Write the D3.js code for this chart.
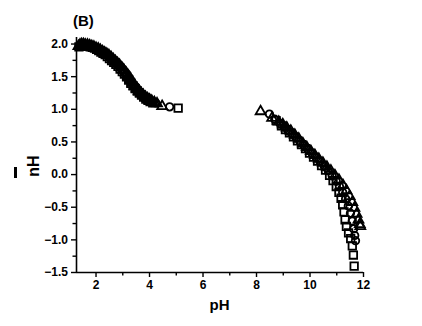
<!DOCTYPE html>
<html><head><meta charset="utf-8">
<script src="https://cdn.jsdelivr.net/npm/d3@7/dist/d3.min.js"></script>
<style>
html,body{margin:0;padding:0;background:#fff;}
text{font-family:"Liberation Sans",Arial,sans-serif;font-weight:bold;fill:#000;}
</style></head>
<body><svg id="c" width="422" height="326"></svg>
<script>
// Series: squares, circles, triangles (pH, nH)
const sqPH = [1.38,1.44,1.50,1.57,1.64,1.72,1.80,1.88,1.96,2.04,2.12,2.20,2.28,2.36,2.44,2.52,2.60,2.68,2.76,2.84,2.92,3.00,3.08,3.16,3.24,3.32,3.40,3.48,3.56,3.64,3.72,3.80,3.88,3.96,4.04,4.14,5.09,
  8.75,8.95,9.10,9.25,9.40,9.55,9.70,9.85,10.00,10.15,10.30,10.45,10.60,10.75,10.88,11.00,11.10,11.18,11.24,11.29,11.33,11.38,11.46,11.54,11.60,11.64,11.67];
const sqNH = [1.95,1.96,1.97,1.97,1.96,1.96,1.95,1.94,1.93,1.91,1.89,1.87,1.85,1.83,1.80,1.77,1.74,1.71,1.68,1.65,1.61,1.57,1.53,1.49,1.44,1.39,1.35,1.31,1.27,1.24,1.21,1.18,1.15,1.13,1.11,1.09,1.01,
  0.82,0.74,0.68,0.63,0.57,0.51,0.45,0.39,0.32,0.26,0.20,0.13,0.06,-0.02,-0.10,-0.19,-0.28,-0.37,-0.47,-0.58,-0.70,-0.80,-0.90,-0.99,-1.10,-1.24,-1.41];
const ciPH = [1.40,1.46,1.52,1.59,1.66,1.74,1.82,1.90,1.98,2.06,2.14,2.22,2.30,2.38,2.46,2.54,2.62,2.70,2.78,2.86,2.94,3.02,3.10,3.18,3.26,3.34,3.42,3.50,3.58,3.66,3.74,3.82,3.90,3.98,4.06,4.15,4.25,4.77,
  8.50,8.70,8.90,9.05,9.20,9.35,9.50,9.65,9.80,9.95,10.10,10.25,10.40,10.55,10.70,10.85,11.00,11.12,11.24,11.35,11.45,11.53,11.60,11.65,11.69,11.72];
const ciNH = [1.97,1.98,1.99,1.98,1.98,1.97,1.96,1.95,1.94,1.92,1.91,1.89,1.87,1.85,1.83,1.80,1.77,1.74,1.71,1.68,1.65,1.61,1.57,1.53,1.48,1.43,1.38,1.34,1.30,1.26,1.23,1.20,1.17,1.15,1.13,1.11,1.09,1.03,
  0.92,0.84,0.77,0.72,0.66,0.61,0.55,0.49,0.43,0.37,0.31,0.25,0.19,0.12,0.05,-0.03,-0.11,-0.19,-0.28,-0.38,-0.49,-0.60,-0.72,-0.84,-0.94,-1.02];
const trPH = [1.36,1.42,1.48,1.55,1.62,1.70,1.78,1.86,1.94,2.02,2.10,2.18,2.26,2.34,2.42,2.50,2.58,2.66,2.74,2.82,2.90,2.98,3.06,3.14,3.22,3.30,3.38,3.46,3.54,3.62,3.70,3.78,3.86,3.94,4.02,4.10,4.20,4.30,4.49,
  8.17,8.60,8.85,9.00,9.15,9.30,9.45,9.60,9.75,9.90,10.05,10.20,10.35,10.50,10.65,10.80,10.95,11.10,11.25,11.38,11.50,11.60,11.68,11.76,11.83,11.88,11.90];
const trNH = [1.96,1.98,1.99,1.99,1.98,1.98,1.97,1.96,1.95,1.93,1.92,1.90,1.88,1.86,1.84,1.82,1.79,1.76,1.73,1.70,1.67,1.63,1.59,1.55,1.50,1.45,1.40,1.35,1.31,1.27,1.24,1.21,1.18,1.16,1.14,1.12,1.10,1.08,1.04,
  0.96,0.86,0.80,0.76,0.71,0.66,0.60,0.54,0.47,0.41,0.35,0.29,0.23,0.17,0.11,0.05,-0.02,-0.09,-0.17,-0.25,-0.34,-0.43,-0.52,-0.61,-0.70,-0.77,-0.80];
const xTicks = [2,4,6,8,10,12];
const yTicks = [-1.5,-1.0,-0.5,0.0,0.5,1.0,1.5,2.0];
const panelLabel = "(B)";
const xTitle = "pH";

const svg = d3.select("#c");
const x = d3.scaleLinear().domain([1.27,12]).range([76,363]);
const y = d3.scaleLinear().domain([-1.5,2.1]).range([272,37]);

// axes
const xAxis = d3.axisBottom(x).tickValues(xTicks).tickSize(5).tickPadding(3).tickFormat(d3.format("d"));
const gx = svg.append("g").attr("transform","translate(0,272)").call(xAxis);
const yAxis = d3.axisLeft(y).tickValues(yTicks).tickSize(5).tickPadding(3).tickFormat(d3.format(".1f"));
const gy = svg.append("g").attr("transform","translate(76,0)").call(yAxis);
[gx,gy].forEach(g=>{
  g.select(".domain").attr("stroke","#000").attr("stroke-width",1.6);
  g.selectAll(".tick line").attr("stroke","#000").attr("stroke-width",1.4);
  g.selectAll("text").attr("font-size",12).attr("font-family","Liberation Sans, Arial, sans-serif").attr("font-weight","bold").attr("fill","#000");
});
gy.select(".domain").attr("d","M0.5,"+y.range()[1]+"V"+y.range()[0]);
gx.select(".domain").attr("d","M"+x.range()[0]+",0.5H"+x.range()[1]);
// minor ticks
const xMinor = d3.range(3,12,2);
svg.append("g").selectAll("line").data(xMinor).join("line")
  .attr("x1",d=>x(d)+0.5).attr("x2",d=>x(d)+0.5).attr("y1",272).attr("y2",275.5)
  .attr("stroke","#000").attr("stroke-width",1.4);
const yMinor = d3.range(-1.25,2.1,0.5);
svg.append("g").selectAll("line").data(yMinor).join("line")
  .attr("y1",d=>y(d)+0.5).attr("y2",d=>y(d)+0.5).attr("x1",76).attr("x2",72.5)
  .attr("stroke","#000").attr("stroke-width",1.4);

// markers
const plot = svg.append("g");
function drawSeries(px, py, type, size){
  const pts = px.map((v,i)=>[v,py[i]]);
  plot.append("g").selectAll("path").data(pts).join("path")
    .attr("d", d3.symbol().type(type).size(size))
    .attr("transform", d=>`translate(${x(d[0])},${y(d[1])})`)
    .attr("fill","none").attr("stroke","#000").attr("stroke-width",1.8);
}
drawSeries(sqPH, sqNH, d3.symbolSquare, 56);
drawSeries(ciPH, ciNH, d3.symbolCircle, 44);
drawSeries(trPH, trNH, d3.symbolTriangle, 42);

// titles
svg.append("text").attr("x",73).attr("y",26).attr("font-size",15).text(panelLabel);
svg.append("text").attr("x",(x.range()[0]+x.range()[1])/2).attr("y",310).attr("text-anchor","middle").attr("font-size",15).text(xTitle);
const yt = svg.append("text").attr("transform","translate(39,166) rotate(-90)").attr("text-anchor","middle").attr("font-size",16);
yt.append("tspan").text("nH");
svg.append("rect").attr("x",14).attr("y",167).attr("width",3).attr("height",11).attr("fill","#000");
</script></body></html>
